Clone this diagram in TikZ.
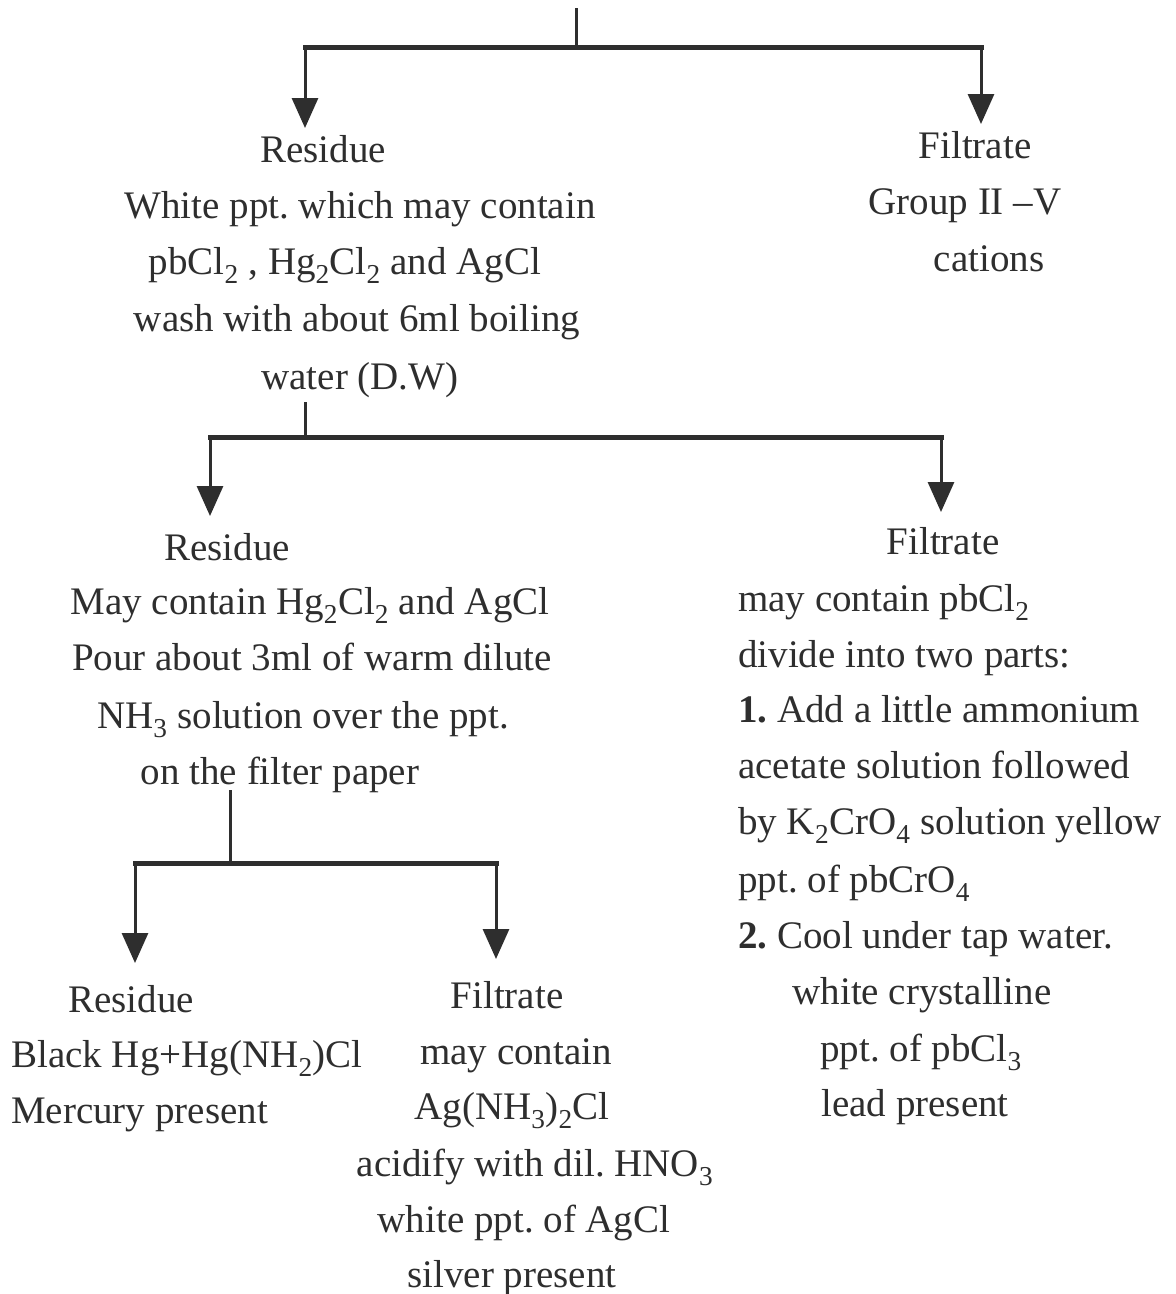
\documentclass[tikz,border=0pt]{standalone}
\usepackage{fontspec}
\setmainfont{Liberation Serif}
\usetikzlibrary{arrows.meta}
\definecolor{ink}{HTML}{2E2E2E}
\frenchspacing
\begin{document}
\begin{tikzpicture}[x=1pt,y=-1pt,
  txt/.style={anchor=base,inner sep=0pt,text=ink,font=\fontsize{39}{57}\selectfont\frenchspacing},
  txtl/.style={txt,anchor=base west},
  stem/.style={draw=ink,line width=3pt},
  bar/.style={draw=ink,line width=5pt,line cap=rect},
  arr/.style={draw=ink,line width=3pt,-{Triangle[length=30pt,width=26pt]}}]
\useasboundingbox (0,0) rectangle (1176,1294);
\fill[white] (0,0) rectangle (1176,1294);
% ---- level 1 texts
\node[txt] (r1a) at (323,162) {Residue};
\node[txt] (r1b) at (360,218) {White ppt. which may contain};
\node[txt] (r1c) at (345,274) {pbCl\textsubscript{2} , Hg\textsubscript{2}Cl\textsubscript{2} and AgCl};
\node[txt] (r1d) at (357,331) {wash with about 6ml boiling};
\node[txt] (r1e) at (360,389) {water (D.W)};
\node[txt] (f1a) at (975,158) {Filtrate};
\node[txt] (f1b) at (965,214) {Group II –V};
\node[txt] (f1c) at (989,271) {cations};
% ---- level 2 texts
\node[txt] (r2a) at (227,560) {Residue};
\node[txt] (r2b) at (310,614) {May contain Hg\textsubscript{2}Cl\textsubscript{2} and AgCl};
\node[txt] (r2c) at (312,670) {Pour about 3ml of warm dilute};
\node[txt] (r2d) at (303,728) {NH\textsubscript{3} solution over the ppt.};
\node[txt] (r2e) at (280,784) {on the filter paper};
\node[txt] (f2a) at (943,554) {Filtrate};
\node[txtl] (f2b) at (738,611) {may contain pbCl\textsubscript{2}};
\node[txtl] (f2c) at (738,667) {divide into two parts:};
\node[txtl] (f2d) at (738,722) {\textbf{1.} Add a little ammonium};
\node[txtl] (f2e) at (738,778) {acetate solution followed};
\node[txtl] (f2f) at (738,834) {by K\textsubscript{2}CrO\textsubscript{4} solution yellow};
\node[txtl] (f2g) at (738,892) {ppt. of pbCrO\textsubscript{4}};
\node[txtl] (f2h) at (738,948) {\textbf{2.} Cool under tap water.};
\node[txt] (f2i) at (922,1004) {white crystalline};
\node[txt] (f2j) at (921,1061) {ppt. of pbCl\textsubscript{3}};
\node[txt] (f2k) at (915,1116) {lead present};
% ---- level 3 texts
\node[txt] (r3a) at (131,1012) {Residue};
\node[txtl] (r3b) at (11,1067) {Black Hg+Hg(NH\textsubscript{2})Cl};
\node[txtl] (r3c) at (11,1123) {Mercury present};
\node[txt] (f3a) at (507,1008) {Filtrate};
\node[txt] (f3b) at (516,1064) {may contain};
\node[txt] (f3c) at (512,1119) {Ag(NH\textsubscript{3})\textsubscript{2}Cl};
\node[txt] (f3d) at (535,1176) {acidify with dil. HNO\textsubscript{3}};
\node[txt] (f3e) at (524,1232) {white ppt. of AgCl};
\node[txt] (f3f) at (512,1287) {silver present};
% ---- connectors level 1
\coordinate (s1) at (576,8);
\coordinate (j1) at (576,47);
\coordinate (j1l) at (305,47);
\coordinate (j1r) at (981,47);
\coordinate (t1l) at (305,128);
\coordinate (t1r) at (981,124);
\draw[stem] (s1) -- (j1);
\draw[bar] (j1l) -- (j1r);
\draw[arr] (j1l) -- (t1l);
\draw[arr] (j1r) -- (t1r);
% ---- connectors level 2
\coordinate (s2) at (305,402);
\coordinate (j2) at (305,437);
\coordinate (j2l) at (210,437);
\coordinate (j2r) at (941,437);
\coordinate (t2l) at (210,516);
\coordinate (t2r) at (941,512);
\draw[stem] (s2) -- (j2);
\draw[bar] (j2l) -- (j2r);
\draw[arr] (j2l) -- (t2l);
\draw[arr] (j2r) -- (t2r);
% ---- connectors level 3
\coordinate (s3) at (230,790);
\coordinate (j3) at (230,863);
\coordinate (j3l) at (135,863);
\coordinate (j3r) at (496,863);
\coordinate (t3l) at (135,963);
\coordinate (t3r) at (496,959);
\draw[stem] (s3) -- (j3);
\draw[bar] (j3l) -- (j3r);
\draw[arr] (j3l) -- (t3l);
\draw[arr] (j3r) -- (t3r);
\end{tikzpicture}
\end{document}
